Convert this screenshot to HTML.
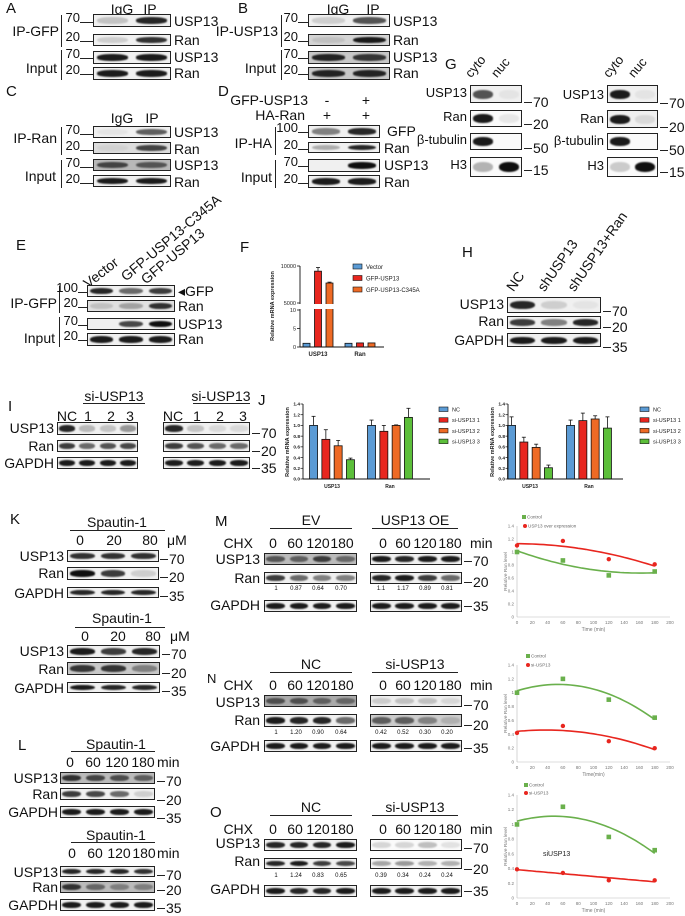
<!DOCTYPE html>
<html><head><meta charset="utf-8">
<style>
html,body{margin:0;padding:0;background:#fff;}
#root{position:relative;width:685px;height:916px;overflow:hidden;font-family:"Liberation Sans",sans-serif;color:#111;}
#root div{position:absolute;}
svg{position:absolute;left:0;top:0;}
svg text{font-family:"Liberation Sans",sans-serif;}
</style></head>
<body>
<div id="root">
<svg id="chart" width="685" height="916"></svg>
</div>
<script>
// ---------- chart data ----------
const fCats = ['USP13', 'Ran'];
const fSeries = ['Vector', 'GFP-USP13', 'GFP-USP13-C345A'];
const fVals = [[1, 1], [9300, 1.1], [7700, 1.1]];
const fErr = [[0, 0], [500, 0], [120, 0]];

const jCats = ['USP13', 'Ran'];
const jSeries = ['NC', 'si-USP13 1', 'si-USP13 2', 'si-USP13 3'];
const j1Vals = [[1.0, 1.0], [0.74, 0.89], [0.62, 1.0], [0.36, 1.15]];
const j1Err = [[0.17, 0.1], [0.18, 0.11], [0.1, 0.01], [0.03, 0.17]];
const j2Vals = [[1.0, 1.0], [0.69, 1.09], [0.59, 1.12], [0.21, 0.95]];
const j2Err = [[0.16, 0.1], [0.09, 0.14], [0.06, 0.06], [0.05, 0.21]];
const jTicks = ['0.0', '0.2', '0.4', '0.6', '0.8', '1.0', '1.2', '1.4'];

const sTime = [0, 60, 120, 180];
const mControl = [1.0, 0.87, 0.64, 0.70];
const mOE = [1.1, 1.17, 0.89, 0.81];
const nControl = [1.0, 1.2, 0.9, 0.64];
const nSi = [0.42, 0.52, 0.30, 0.20];
const oControl = [1.0, 1.24, 0.83, 0.65];
const oSi = [0.39, 0.34, 0.24, 0.24];
const sXTicks = [0, 20, 40, 60, 80, 100, 120, 140, 160, 180, 200];
const sYTicks = [0, 0.2, 0.4, 0.6, 0.8, 1, 1.2, 1.4];

const root = document.getElementById('root');
const svg = document.getElementById('chart');
const NS = 'http://www.w3.org/2000/svg';

function t(x, y, s, size, al, name, rot) {
  const el = document.createElement('div');
  el.textContent = s;
  let tr = al === 'r' ? 'translateX(-100%)' : al === 'c' ? 'translateX(-50%)' : '';
  let top = y - size * 0.58;
  let css = 'left:' + x + 'px;top:' + top + 'px;font-size:' + size + 'px;line-height:' + (size * 1.15) + 'px;white-space:nowrap;';
  if (rot) { css = 'left:' + x + 'px;top:' + (y - size * 1.15) + 'px;font-size:' + size + 'px;line-height:' + (size * 1.15) + 'px;white-space:nowrap;transform-origin:0 100%;transform:rotate(' + rot + 'deg);'; }
  else css += 'transform:' + tr + ';';
  el.style.cssText = css;
  
  
  root.appendChild(el);
}
function hl(x1, x2, y, name) {
  const el = document.createElement('div');
  el.style.cssText = 'left:' + x1 + 'px;top:' + y + 'px;width:' + (x2 - x1) + 'px;height:1px;background:#222;';
  
  
  root.appendChild(el);
}
function vl(x, y1, y2, name) {
  const el = document.createElement('div');
  el.style.cssText = 'left:' + x + 'px;top:' + y1 + 'px;width:1.3px;height:' + (y2 - y1) + 'px;background:#222;';
  
  
  root.appendChild(el);
}
function blot(x, y, w, h, vals, name, bg) {
  const box = document.createElement('div');
  box.style.cssText = 'left:' + x + 'px;top:' + y + 'px;width:' + w + 'px;height:' + h + 'px;border:1.2px solid #222;box-sizing:border-box;background:' + (bg || '#f0f0f0') + ';overflow:hidden;';
  
  
  root.appendChild(box);
  const lw = w / vals.length;
  vals.forEach(function (v, i) {
    const b = document.createElement('div');
    const bw = lw * 0.8, bh = Math.max(4, h * 0.5);
    b.style.cssText = 'left:' + ((i + 0.5) * lw - bw / 2 - 1) + 'px;top:' + ((h - bh) / 2 - 1) + 'px;width:' + bw + 'px;height:' + bh + 'px;border-radius:45%;background:rgba(15,15,15,' + v + ');filter:blur(0.7px);';
    
    
    box.appendChild(b);
  });
}
function mkL(xr, y, s, x2) { t(xr, y, s, 13, 'r', 'mw-marker'); hl(xr, x2, y + 3, 'mw-tick'); }
function mkR(x, y, s) { hl(x, x + 8, y, 'mw-tick'); t(x + 9, y, s, 14, 'l', 'mw-marker'); }

// ---------- A ----------
t(6, 9, 'A', 15, 'l', 'panel-label-a');
t(122, 9, 'IgG', 14, 'c', 'lane-igg'); t(150, 9, 'IP', 14, 'c', 'lane-ip');
blot(93, 14, 78, 13, [0.2, 0.9], 'blot-a-usp13');
blot(93, 34, 78, 12, [0.15, 0.85], 'blot-a-ran');
blot(93, 51, 78, 13, [0.95, 0.95], 'blot-a-input-usp13');
blot(93, 67, 78, 13, [0.95, 0.95], 'blot-a-input-ran');
t(174, 21, 'USP13', 14, 'l', 'protein-label'); t(174, 40, 'Ran', 14, 'l', 'protein-label');
t(174, 57, 'USP13', 14, 'l', 'protein-label'); t(174, 73, 'Ran', 14, 'l', 'protein-label');
t(59, 31, 'IP-GFP', 14, 'r', 'group-label'); vl(61, 15, 47, 'bracket');
t(57, 68, 'Input', 14, 'r', 'group-label'); vl(61, 50, 80, 'bracket');
mkL(80, 19, '70', 93); mkL(80, 38, '20', 93); mkL(80, 55, '70', 93); mkL(80, 71, '20', 93);

// ---------- B ----------
t(238, 9, 'B', 15, 'l', 'panel-label-b');
t(338, 9, 'IgG', 14, 'c', 'lane-igg'); t(373, 9, 'IP', 14, 'c', 'lane-ip');
blot(308, 14, 82, 13, [0.15, 0.7], 'blot-b-usp13');
blot(308, 34, 82, 12, [0.1, 0.95], 'blot-b-ran', '#d4d4d4');
blot(308, 51, 82, 13, [0.9, 0.8], 'blot-b-input-usp13', '#c8c8c8');
blot(308, 67, 82, 13, [0.9, 0.9], 'blot-b-input-ran', '#c8c8c8');
t(393, 21, 'USP13', 14, 'l', 'protein-label'); t(393, 40, 'Ran', 14, 'l', 'protein-label');
t(393, 57, 'USP13', 14, 'l', 'protein-label'); t(393, 73, 'Ran', 14, 'l', 'protein-label');
t(278, 31, 'IP-USP13', 14, 'r', 'group-label'); vl(281, 15, 47, 'bracket');
t(276, 68, 'Input', 14, 'r', 'group-label'); vl(281, 50, 80, 'bracket');
mkL(298, 19, '70', 308); mkL(298, 38, '20', 308); mkL(298, 55, '70', 308); mkL(298, 71, '20', 308);

// ---------- C ----------
t(6, 92, 'C', 15, 'l', 'panel-label-c');
t(122, 118, 'IgG', 14, 'c', 'lane-igg'); t(152, 118, 'IP', 14, 'c', 'lane-ip');
blot(93, 126, 78, 12, [0.05, 0.65], 'blot-c-usp13');
blot(93, 142, 78, 12, [0.05, 0.75], 'blot-c-ran', '#dcdcdc');
blot(93, 159, 78, 12, [0.7, 0.6], 'blot-c-input-usp13', '#b8b8b8');
blot(93, 175, 78, 12, [0.95, 0.95], 'blot-c-input-ran');
t(174, 132, 'USP13', 14, 'l', 'protein-label'); t(174, 149, 'Ran', 14, 'l', 'protein-label');
t(174, 165, 'USP13', 14, 'l', 'protein-label'); t(174, 182, 'Ran', 14, 'l', 'protein-label');
t(57, 138, 'IP-Ran', 14, 'r', 'group-label'); vl(61, 127, 155, 'bracket');
t(56, 176, 'Input', 14, 'r', 'group-label'); vl(61, 160, 188, 'bracket');
mkL(80, 131, '70', 93); mkL(80, 147, '20', 93); mkL(80, 164, '70', 93); mkL(80, 180, '20', 93);

// ---------- D ----------
t(218, 92, 'D', 15, 'l', 'panel-label-d');
t(308, 100, 'GFP-USP13', 14, 'r', 'condition-label'); t(327, 100, '-', 14, 'c', 'condition-sign'); t(366, 100, '+', 14, 'c', 'condition-sign');
t(305, 115, 'HA-Ran', 14, 'r', 'condition-label'); t(327, 115, '+', 14, 'c', 'condition-sign'); t(366, 115, '+', 14, 'c', 'condition-sign');
blot(308, 125, 72, 13, [0.5, 0.9], 'blot-d-gfp');
blot(308, 142, 72, 11, [0.3, 0.9], 'blot-d-ran');
blot(308, 159, 72, 13, [0, 1], 'blot-d-input-usp13');
blot(308, 175, 72, 13, [0.95, 0.95], 'blot-d-input-ran');
t(387, 131, 'GFP', 14, 'l', 'protein-label'); t(384, 148, 'Ran', 14, 'l', 'protein-label');
t(384, 165, 'USP13', 14, 'l', 'protein-label'); t(384, 182, 'Ran', 14, 'l', 'protein-label');
t(272, 143, 'IP-HA', 14, 'r', 'group-label'); vl(275, 127, 155, 'bracket');
t(272, 177, 'Input', 14, 'r', 'group-label'); vl(275, 160, 188, 'bracket');
mkL(298, 129, '100', 308); mkL(298, 146, '20', 308); mkL(298, 163, '70', 308); mkL(298, 180, '20', 308);

// ---------- E ----------
t(16, 246, 'E', 15, 'l', 'panel-label-e');
t(90, 291, 'Vector', 14, 'l', 'lane-vector', -38);
t(128, 284, 'GFP-USP13-C345A', 14, 'l', 'lane-c345a', -40);
t(148, 287, 'GFP-USP13', 14, 'l', 'lane-gfp-usp13', -40);
blot(87, 285, 88, 12, [0.9, 0.6, 0.8], 'blot-e-gfp');
blot(87, 300, 88, 12, [0.15, 0.3, 0.85], 'blot-e-ran', '#e0e0e0');
blot(87, 318, 88, 12, [0, 0.75, 1], 'blot-e-input-usp13');
blot(87, 333, 88, 13, [0.95, 0.95, 0.95], 'blot-e-input-ran');
t(178, 291, '◂GFP', 14, 'l', 'protein-label'); t(178, 306, 'Ran', 14, 'l', 'protein-label');
t(178, 324, 'USP13', 14, 'l', 'protein-label'); t(178, 339, 'Ran', 14, 'l', 'protein-label');
t(57, 303, 'IP-GFP', 14, 'r', 'group-label'); vl(59, 286, 313, 'bracket');
t(55, 338, 'Input', 14, 'r', 'group-label'); vl(59, 317, 347, 'bracket');
mkL(78, 289, '100', 87); mkL(78, 304, '20', 87); mkL(78, 322, '70', 87); mkL(78, 337, '20', 87);

t(240, 248, 'F', 15, 'l', 'panel-label-f');

// ---------- G ----------
t(445, 65, 'G', 15, 'l', 'panel-label-g');
t(474, 81, 'cyto', 13, 'l', 'lane-cyto', -50); t(500, 81, 'nuc', 13, 'l', 'lane-nuc', -50);
blot(470, 85, 52, 18, [0.7, 0.05], 'blot-g1-usp13');
blot(470, 110, 52, 17, [0.95, 0.08], 'blot-g1-ran', '#fafafa');
blot(470, 133, 52, 17, [0.95, 0], 'blot-g1-tubulin', '#fafafa');
blot(470, 157, 52, 20, [0.3, 1], 'blot-g1-h3', '#fafafa');
t(467, 94, 'USP13', 13, 'r', 'protein-label'); t(467, 118, 'Ran', 13, 'r', 'protein-label');
t(467, 141, 'β-tubulin', 13, 'r', 'protein-label'); t(467, 166, 'H3', 13, 'r', 'protein-label');
mkR(524, 102, '70'); mkR(524, 124, '20'); mkR(524, 148, '50'); mkR(524, 170, '15');
t(612, 81, 'cyto', 13, 'l', 'lane-cyto', -50); t(637, 81, 'nuc', 13, 'l', 'lane-nuc', -50);
blot(607, 85, 51, 18, [0.95, 0.05], 'blot-g2-usp13');
blot(607, 110, 51, 18, [0.95, 0.1], 'blot-g2-ran');
blot(607, 133, 51, 17, [0.95, 0], 'blot-g2-tubulin', '#fafafa');
blot(607, 157, 51, 20, [0.2, 1], 'blot-g2-h3', '#fafafa');
t(604, 96, 'USP13', 13, 'r', 'protein-label'); t(604, 120, 'Ran', 13, 'r', 'protein-label');
t(604, 142, 'β-tubulin', 13, 'r', 'protein-label'); t(604, 167, 'H3', 13, 'r', 'protein-label');
mkR(660, 103, '70'); mkR(660, 127, '20'); mkR(660, 150, '50'); mkR(660, 172, '15');

// ---------- H ----------
t(462, 253, 'H', 15, 'l', 'panel-label-h');
t(516, 294, 'NC', 14, 'l', 'lane-nc', -55);
t(547, 294, 'shUSP13', 14, 'l', 'lane-shusp13', -55);
t(577, 294, 'shUSP13+Ran', 14, 'l', 'lane-shusp13-ran', -55);
blot(507, 297, 94, 16, [0.9, 0.15, 0.05], 'blot-h-usp13');
blot(507, 316, 94, 13, [0.8, 0.5, 0.9], 'blot-h-ran');
blot(507, 333, 94, 14, [0.95, 0.95, 0.95], 'blot-h-gapdh');
t(504, 304, 'USP13', 14, 'r', 'protein-label'); t(504, 321, 'Ran', 14, 'r', 'protein-label'); t(504, 340, 'GAPDH', 14, 'r', 'protein-label');
mkR(603, 311, '70'); mkR(603, 327, '20'); mkR(603, 347, '35');

// ---------- I ----------
t(8, 407, 'I', 15, 'l', 'panel-label-i');
t(114, 396, 'si-USP13', 14, 'c', 'group-si-usp13'); hl(83, 145, 403, 'group-line');
t(67, 416, 'NC', 14, 'c', 'lane'); t(88, 416, '1', 14, 'c', 'lane'); t(111, 416, '2', 14, 'c', 'lane'); t(130, 416, '3', 14, 'c', 'lane');
blot(57, 422, 81, 13, [0.9, 0.25, 0.2, 0.4], 'blot-i1-usp13');
blot(57, 440, 81, 12, [0.8, 0.6, 0.7, 0.75], 'blot-i1-ran');
blot(57, 457, 81, 12, [0.95, 0.95, 0.95, 0.95], 'blot-i1-gapdh');
t(221, 396, 'si-USP13', 14, 'c', 'group-si-usp13'); hl(193, 250, 403, 'group-line');
t(173, 416, 'NC', 14, 'c', 'lane'); t(197, 416, '1', 14, 'c', 'lane'); t(220, 416, '2', 14, 'c', 'lane'); t(243, 416, '3', 14, 'c', 'lane');
blot(163, 422, 87, 13, [0.9, 0.2, 0.1, 0.1], 'blot-i2-usp13');
blot(163, 440, 87, 12, [0.8, 0.7, 0.6, 0.6], 'blot-i2-ran');
blot(163, 457, 87, 12, [0.95, 0.95, 0.95, 0.95], 'blot-i2-gapdh');
t(54, 428, 'USP13', 14, 'r', 'protein-label'); t(54, 446, 'Ran', 14, 'r', 'protein-label'); t(54, 463, 'GAPDH', 14, 'r', 'protein-label');
mkR(252, 433, '70'); mkR(252, 451, '20'); mkR(252, 468, '35');
t(258, 401, 'J', 15, 'l', 'panel-label-j');

// ---------- K ----------
t(10, 520, 'K', 15, 'l', 'panel-label-k');
t(117, 522, 'Spautin-1', 14, 'c', 'treatment-label'); hl(70, 165, 530, 'group-line');
t(80, 540, '0', 14, 'c', 'dose'); t(114, 540, '20', 14, 'c', 'dose'); t(150, 540, '80', 14, 'c', 'dose'); t(167, 540, 'μM', 14, 'l', 'unit');
blot(67, 550, 92, 12, [0.85, 0.85, 0.85], 'blot-k1-usp13');
blot(67, 567, 92, 13, [1, 0.8, 0.15], 'blot-k1-ran');
blot(67, 587, 92, 11, [0.9, 0.9, 0.9], 'blot-k1-gapdh');
t(64, 556, 'USP13', 14, 'r', 'protein-label'); t(64, 573, 'Ran', 14, 'r', 'protein-label'); t(64, 593, 'GAPDH', 14, 'r', 'protein-label');
mkR(160, 559, '70'); mkR(160, 577, '20'); mkR(160, 596, '35');
t(122, 618, 'Spautin-1', 14, 'c', 'treatment-label'); hl(75, 165, 627, 'group-line');
t(85, 636, '0', 14, 'c', 'dose'); t(118, 636, '20', 14, 'c', 'dose'); t(153, 636, '80', 14, 'c', 'dose'); t(170, 636, 'μM', 14, 'l', 'unit');
blot(67, 645, 93, 13, [0.95, 0.8, 0.9], 'blot-k2-usp13');
blot(67, 662, 93, 13, [0.8, 0.8, 0.4], 'blot-k2-ran', '#c8c8c8');
blot(67, 682, 93, 11, [0.95, 0.9, 0.9], 'blot-k2-gapdh');
t(64, 651, 'USP13', 14, 'r', 'protein-label'); t(64, 669, 'Ran', 14, 'r', 'protein-label'); t(64, 688, 'GAPDH', 14, 'r', 'protein-label');
mkR(162, 654, '70'); mkR(162, 673, '20'); mkR(162, 691, '35');

// ---------- L ----------
t(18, 746, 'L', 15, 'l', 'panel-label-l');
t(116, 744, 'Spautin-1', 14, 'c', 'treatment-label'); hl(71, 155, 751, 'group-line');
t(70, 762, '0', 14, 'c', 'time'); t(93, 762, '60', 14, 'c', 'time'); t(117, 762, '120', 14, 'c', 'time'); t(143, 762, '180', 14, 'c', 'time'); t(157, 762, 'min', 14, 'l', 'unit');
blot(60, 772, 95, 12, [0.8, 0.7, 0.65, 0.55], 'blot-l1-usp13', '#bbb');
blot(60, 788, 95, 12, [0.8, 0.75, 0.6, 0.15], 'blot-l1-ran');
blot(60, 806, 95, 12, [0.95, 0.95, 0.95, 0.95], 'blot-l1-gapdh');
t(58, 778, 'USP13', 14, 'r', 'protein-label'); t(58, 794, 'Ran', 14, 'r', 'protein-label'); t(58, 812, 'GAPDH', 14, 'r', 'protein-label');
mkR(157, 781, '70'); mkR(157, 800, '20'); mkR(157, 818, '35');
t(116, 835, 'Spautin-1', 14, 'c', 'treatment-label'); hl(71, 155, 842, 'group-line');
t(72, 853, '0', 14, 'c', 'time'); t(95, 853, '60', 14, 'c', 'time'); t(119, 853, '120', 14, 'c', 'time'); t(144, 853, '180', 14, 'c', 'time'); t(157, 853, 'min', 14, 'l', 'unit');
blot(60, 866, 95, 11, [0.9, 0.9, 0.9, 0.85], 'blot-l2-usp13');
blot(60, 881, 95, 12, [0.8, 0.5, 0.35, 0.35], 'blot-l2-ran', '#bbb');
blot(60, 899, 95, 12, [0.95, 0.95, 0.95, 0.95], 'blot-l2-gapdh');
t(58, 872, 'USP13', 14, 'r', 'protein-label'); t(58, 887, 'Ran', 14, 'r', 'protein-label'); t(58, 905, 'GAPDH', 14, 'r', 'protein-label');
mkR(157, 875, '70'); mkR(157, 890, '20'); mkR(157, 908, '35');

// ---------- M N O blots ----------
function chxHeader(yh, yc, g1, g2) {
  t(311, yh, g1, 14, 'c', 'group-label'); hl(270, 352, yh + 8, 'group-line');
  t(415, yh, g2, 14, 'c', 'group-label'); hl(372, 458, yh + 8, 'group-line');
  t(253, yc, 'CHX', 14, 'r', 'chx-label');
  t(273, yc, '0', 14, 'c', 'time'); t(295, yc, '60', 14, 'c', 'time'); t(318, yc, '120', 14, 'c', 'time'); t(342, yc, '180', 14, 'c', 'time');
  t(383, yc, '0', 14, 'c', 'time'); t(403, yc, '60', 14, 'c', 'time'); t(425, yc, '120', 14, 'c', 'time'); t(450, yc, '180', 14, 'c', 'time');
  t(470, yc, 'min', 14, 'l', 'unit');
}
function nums(y, a, b) {
  const xs1 = [276, 296, 318, 341], xs2 = [381, 403, 425, 447];
  a.forEach(function (s, i) { t(xs1[i], y, s, 6, 'c', 'quant-value'); });
  b.forEach(function (s, i) { t(xs2[i], y, s, 6, 'c', 'quant-value'); });
}
t(215, 522, 'M', 15, 'l', 'panel-label-m');
chxHeader(520, 543, 'EV', 'USP13 OE');
blot(264, 553, 93, 12, [0.6, 0.55, 0.75, 0.5], 'blot-m-ev-usp13', '#bbb');
blot(370, 553, 92, 12, [0.95, 0.9, 0.95, 0.95], 'blot-m-oe-usp13');
blot(264, 572, 93, 12, [0.8, 0.6, 0.5, 0.5], 'blot-m-ev-ran');
blot(370, 572, 92, 12, [0.9, 0.95, 0.8, 0.6], 'blot-m-oe-ran');
nums(589, ['1', '0.87', '0.64', '0.70'], ['1.1', '1.17', '0.89', '0.81']);
blot(264, 600, 93, 12, [0.95, 0.95, 0.95, 0.95], 'blot-m-ev-gapdh');
blot(370, 600, 92, 12, [0.95, 0.95, 0.95, 0.95], 'blot-m-oe-gapdh');
t(260, 559, 'USP13', 14, 'r', 'protein-label'); t(260, 578, 'Ran', 14, 'r', 'protein-label'); t(260, 605, 'GAPDH', 14, 'r', 'protein-label');
mkR(464, 561, '70'); mkR(464, 582, '20'); mkR(464, 606, '35');

t(207, 680, 'N', 13, 'l', 'panel-label-n');
chxHeader(664, 685, 'NC', 'si-USP13');
blot(264, 695, 93, 12, [0.6, 0.6, 0.5, 0.45], 'blot-n-nc-usp13', '#aaa');
blot(370, 695, 92, 12, [0.15, 0.2, 0.2, 0.1], 'blot-n-si-usp13', '#eee');
blot(264, 714, 93, 13, [0.95, 0.9, 0.9, 0.6], 'blot-n-nc-ran');
blot(370, 714, 92, 13, [0.6, 0.6, 0.4, 0.15], 'blot-n-si-ran', '#ccc');
nums(733, ['1', '1.20', '0.90', '0.64'], ['0.42', '0.52', '0.30', '0.20']);
blot(264, 740, 93, 12, [0.95, 0.95, 0.95, 0.95], 'blot-n-nc-gapdh');
blot(370, 740, 92, 12, [0.95, 0.95, 0.95, 0.95], 'blot-n-si-gapdh');
t(260, 702, 'USP13', 14, 'r', 'protein-label'); t(260, 720, 'Ran', 14, 'r', 'protein-label'); t(260, 746, 'GAPDH', 14, 'r', 'protein-label');
mkR(464, 705, '70'); mkR(464, 725, '20'); mkR(464, 748, '35');

t(210, 813, 'O', 15, 'l', 'panel-label-o');
chxHeader(807, 829, 'NC', 'si-USP13');
blot(264, 839, 93, 12, [0.9, 0.9, 0.9, 0.95], 'blot-o-nc-usp13');
blot(370, 839, 92, 12, [0.15, 0.15, 0.25, 0.1], 'blot-o-si-usp13', '#fafafa');
blot(264, 858, 93, 11, [0.9, 0.95, 0.8, 0.75], 'blot-o-nc-ran');
blot(370, 858, 92, 11, [0.35, 0.4, 0.3, 0.3], 'blot-o-si-ran', '#f6f6f6');
nums(876, ['1', '1.24', '0.83', '0.65'], ['0.39', '0.34', '0.24', '0.24']);
blot(264, 885, 93, 12, [0.95, 0.9, 0.9, 0.95], 'blot-o-nc-gapdh');
blot(370, 885, 92, 12, [0.95, 0.95, 0.95, 0.95], 'blot-o-si-gapdh');
t(260, 843, 'USP13', 14, 'r', 'protein-label'); t(260, 861, 'Ran', 14, 'r', 'protein-label'); t(260, 889, 'GAPDH', 14, 'r', 'protein-label');
mkR(464, 848, '70'); mkR(464, 869, '20'); mkR(464, 891, '35');

// ---------- SVG helpers ----------
function sv(tag, attrs, name, parent) {
  const e = document.createElementNS(NS, tag);
  for (const k in attrs) e.setAttribute(k, attrs[k]);
  
  
  (parent || svg).appendChild(e);
  return e;
}
function st(x, y, s, size, anchor, name, extra) {
  const e = sv('text', Object.assign({ x: x, y: y, 'font-size': size, 'text-anchor': anchor || 'start', fill: '#222' }, extra || {}), name);
  e.textContent = s;
  return e;
}
const barColors = ['#5b9bd5', '#e8261f', '#ee6a25', '#5cbf3a'];

// ---------- F chart ----------
function yF(v) { return v <= 10 ? 347 - v * 3.7 : 303 - (v - 5000) / 5000 * 37; }
const fCenters = [318, 360];
fSeries.forEach(function (s, si) {
  fCats.forEach(function (c, ci) {
    const x = fCenters[ci] + (si - 1) * 11.5 - 3.5;
    const y = yF(fVals[si][ci]);
    sv('rect', { x: x, y: y, width: 7, height: 347 - y, fill: barColors[si], stroke: '#111', 'stroke-width': 0.8 }, 'bar-f-' + si + '-' + ci);
    if (fErr[si][ci] > 0) {
      const ye = yF(fVals[si][ci] + fErr[si][ci]);
      sv('line', { x1: x + 3.5, x2: x + 3.5, y1: y, y2: ye, stroke: '#111', 'stroke-width': 0.8 }, 'error-bar');
      sv('line', { x1: x + 1.5, x2: x + 5.5, y1: ye, y2: ye, stroke: '#111', 'stroke-width': 0.8 }, 'error-cap');
    }
  });
});
sv('rect', { x: 301, y: 304, width: 85, height: 5, fill: '#fff' }, 'axis-break');
sv('line', { x1: 300, x2: 300, y1: 266, y2: 304, stroke: '#111', 'stroke-width': 0.9 }, 'f-y-axis-upper');
sv('line', { x1: 300, x2: 300, y1: 309, y2: 347, stroke: '#111', 'stroke-width': 0.9 }, 'f-y-axis-lower');
sv('line', { x1: 300, x2: 384, y1: 347, y2: 347, stroke: '#111', 'stroke-width': 0.9 }, 'f-x-axis');
const fTicks = [10000, 5000, 10, 5, 0];
fTicks.forEach(function (v) {
  const y = yF(v);
  sv('line', { x1: 297, x2: 300, y1: y, y2: y, stroke: '#111', 'stroke-width': 0.8 }, 'f-y-tick');
  st(296, y + 2, String(v), 5.5, 'end', 'f-y-tick-label');
});
fCats.forEach(function (c, ci) { st(fCenters[ci], 356, c, 6, 'middle', 'f-x-label', { 'font-weight': 'bold' }); });
st(0, 0, 'Relative mRNA expression', 5.5, 'middle', 'f-y-title', { transform: 'translate(274,306) rotate(-90)', 'font-weight': 'bold' });
fSeries.forEach(function (s, si) {
  sv('rect', { x: 353, y: 264 + si * 11.5, width: 9, height: 5, fill: barColors[si], stroke: '#111', 'stroke-width': 0.6 }, 'f-legend-swatch');
  st(366, 269 + si * 11.5, s, 6, 'start', 'f-legend-label');
});

// ---------- J charts ----------
function drawJ(ax, axEnd, centers, vals, errs, legX, tag) {
  const yb = 479, yt = 404;
  const yJ = function (v) { return yb - v / 1.4 * (yb - yt); };
  jSeries.forEach(function (s, si) {
    jCats.forEach(function (c, ci) {
      const x = centers[ci] + (si - 1.5) * 12.3 - 4;
      const y = yJ(vals[si][ci]);
      sv('rect', { x: x, y: y, width: 8, height: yb - y, fill: barColors[si], stroke: '#111', 'stroke-width': 0.8 }, 'bar-' + tag + '-' + si + '-' + ci);
      const ye = yJ(vals[si][ci] + errs[si][ci]);
      sv('line', { x1: x + 4, x2: x + 4, y1: y, y2: ye, stroke: '#111', 'stroke-width': 0.8 }, 'error-bar');
      sv('line', { x1: x + 2, x2: x + 6, y1: ye, y2: ye, stroke: '#111', 'stroke-width': 0.8 }, 'error-cap');
    });
  });
  sv('line', { x1: ax, x2: ax, y1: yt, y2: yb, stroke: '#111', 'stroke-width': 0.9 }, tag + '-y-axis');
  sv('line', { x1: ax, x2: axEnd, y1: yb, y2: yb, stroke: '#111', 'stroke-width': 0.9 }, tag + '-x-axis');
  jTicks.forEach(function (s, i) {
    const y = yJ(i * 0.2);
    sv('line', { x1: ax - 2.5, x2: ax, y1: y, y2: y, stroke: '#111', 'stroke-width': 0.7 }, 'j-y-tick');
    st(ax - 3, y + 1.7, s, 4.8, 'end', 'j-y-tick-label', { 'font-weight': 'bold' });
  });
  jCats.forEach(function (c, ci) { st(centers[ci], 488, c, 5, 'middle', 'j-x-label', { 'font-weight': 'bold' }); });
  st(0, 0, 'Relative mRNA expression', 5.5, 'middle', 'j-y-title', { transform: 'translate(' + (ax - 14) + ',442) rotate(-90)', 'font-weight': 'bold' });
  jSeries.forEach(function (s, si) {
    sv('rect', { x: legX, y: 407 + si * 10.7, width: 9, height: 4.5, fill: barColors[si], stroke: '#111', 'stroke-width': 0.6 }, 'j-legend-swatch');
    st(legX + 13, 411.5 + si * 10.7, s, 5.5, 'start', 'j-legend-label');
  });
}
drawJ(303, 430, [332, 390], j1Vals, j1Err, 439, 'j1');
drawJ(508, 623, [530, 589], j2Vals, j2Err, 640, 'j2');

// ---------- scatter charts ----------
function fit(xs, ys, deg) {
  const n = deg + 1, A = [], b = [];
  for (let i = 0; i < n; i++) { A.push([]); for (let j = 0; j < n; j++) { let s = 0; xs.forEach(function (x) { s += Math.pow(x, i + j); }); A[i].push(s); } let s = 0; xs.forEach(function (x, k) { s += ys[k] * Math.pow(x, i); }); b.push(s); }
  for (let i = 0; i < n; i++) { for (let k = i + 1; k < n; k++) { const f = A[k][i] / A[i][i]; for (let j = i; j < n; j++) A[k][j] -= f * A[i][j]; b[k] -= f * b[i]; } }
  const c = new Array(n).fill(0);
  for (let i = n - 1; i >= 0; i--) { let s = b[i]; for (let j = i + 1; j < n; j++) s -= A[i][j] * c[j]; c[i] = s / A[i][i]; }
  return c;
}
function drawScatter(y0, y14, series, xTitle, tag) {
  const x0 = 517, x200 = 670;
  const X = function (v) { return x0 + v / 200 * (x200 - x0); };
  const Y = function (v) { return y0 - v / 1.4 * (y0 - y14); };
  sv('line', { x1: x0, x2: x0, y1: y14, y2: y0, stroke: '#bbb', 'stroke-width': 0.6 }, tag + '-y-axis');
  sv('line', { x1: x0, x2: x200, y1: y0, y2: y0, stroke: '#bbb', 'stroke-width': 0.6 }, tag + '-x-axis');
  sXTicks.forEach(function (v) { st(X(v), y0 + 7, String(v), 4.5, 'middle', 'scatter-x-tick-label', { fill: '#777' }); });
  sYTicks.forEach(function (v) { st(x0 - 3, Y(v) + 1.5, String(Math.round(v * 10) / 10), 4.5, 'end', 'scatter-y-tick-label', { fill: '#777' }); });
  st(X(100), y0 + 14, xTitle, 5, 'middle', 'scatter-x-title', { fill: '#777' });
  st(0, 0, 'Relative Ran level', 4.8, 'middle', 'scatter-y-title', { fill: '#777', transform: 'translate(507,' + ((y0 + y14) / 2) + ') rotate(-90)' });
  series.forEach(function (s, si) {
    const c = fit(sTime, s.vals, s.deg);
    let d = '';
    for (let tt = 0; tt <= 180; tt += 5) { let v = 0; c.forEach(function (ci, k) { v += ci * Math.pow(tt, k); }); d += (tt ? 'L' : 'M') + X(tt).toFixed(1) + ',' + Y(v).toFixed(1); }
    sv('path', { d: d, fill: 'none', stroke: s.color, 'stroke-width': 1.6 }, tag + '-trend-' + si);
    s.vals.forEach(function (v, i) {
      if (s.square) sv('rect', { x: X(sTime[i]) - 2.3, y: Y(v) - 2.3, width: 4.6, height: 4.6, fill: s.color }, tag + '-point');
      else sv('circle', { cx: X(sTime[i]), cy: Y(v), r: 2.2, fill: s.color }, tag + '-point');
    });
    if (s.square) sv('rect', { x: s.lx - 2, y: s.ly - 2, width: 4, height: 4, fill: s.color }, 'scatter-legend-marker');
    else sv('circle', { cx: s.lx, cy: s.ly, r: 2, fill: s.color }, 'scatter-legend-marker');
    st(s.lx + 3, s.ly + 1.6, s.label, 4.6, 'start', 'scatter-legend-label', { fill: '#666' });
  });
}
drawScatter(617, 526, [
  { vals: mControl, deg: 2, color: '#6ab04c', square: true, label: 'Control', lx: 524, ly: 517 },
  { vals: mOE, deg: 2, color: '#e8261f', square: false, label: 'USP13 over expression', lx: 525, ly: 526 }
], 'Time (min)', 'scatter-m');
drawScatter(762, 665, [
  { vals: nControl, deg: 2, color: '#6ab04c', square: true, label: 'Control', lx: 528, ly: 656 },
  { vals: nSi, deg: 2, color: '#e8261f', square: false, label: 'si-USP13', lx: 528, ly: 665 }
], 'Time(min)', 'scatter-n');
drawScatter(898, 795, [
  { vals: oControl, deg: 2, color: '#6ab04c', square: true, label: 'Control', lx: 526, ly: 785 },
  { vals: oSi, deg: 1, color: '#e8261f', square: false, label: 'si-USP13', lx: 526, ly: 793 }
], 'Time (min)', 'scatter-o');
st(543, 856, 'siUSP13', 7, 'start', 'stray-label', { 'font-family': 'Liberation Serif, serif' });
</script>
</body></html>
